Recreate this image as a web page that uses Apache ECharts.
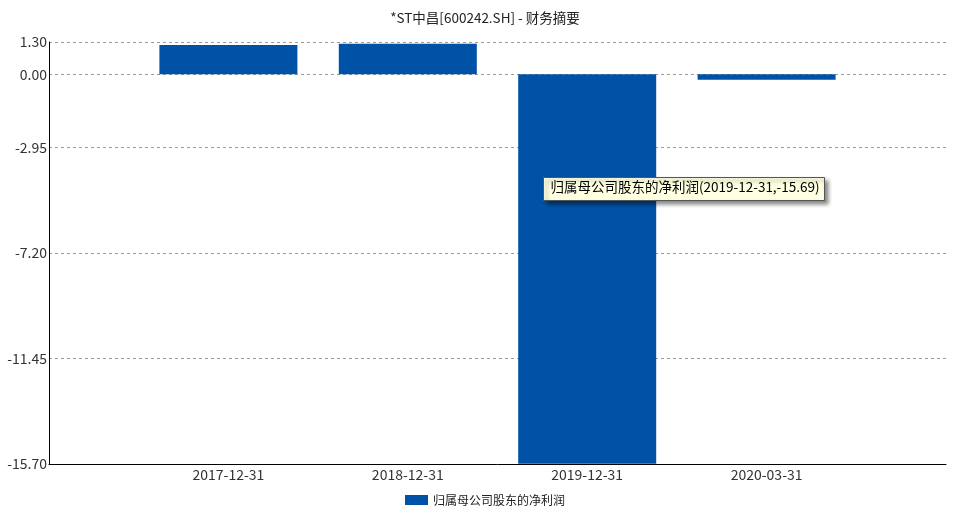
<!DOCTYPE html>
<html>
<head>
<meta charset="utf-8">
<script src="https://cdn.jsdelivr.net/npm/echarts@6/dist/echarts.min.js"></script>
<style>html,body{margin:0;padding:0;background:#fff;}#c{width:970px;height:516px;}</style>
</head>
<body>
<div id="c"></div>
<script>
const titleText = '*ST中昌[600242.SH] - 财务摘要';
const seriesName = '归属母公司股东的净利润';
const categories = ['2017-12-31', '2018-12-31', '2019-12-31', '2020-03-31'];
const values = [1.18, 1.23, -15.69, -0.22];
const yTicks = [-15.70, -11.45, -7.20, -2.95, 0.00, 1.30];
const tipIndex = 2;

const FONT = '"Noto Sans CJK SC", "Noto Sans", sans-serif';
const chart = echarts.init(document.getElementById('c'), null, {renderer: 'canvas'});
const barData = values.map((v, i) => [i, v]);
const tipText = seriesName + '(' + categories[tipIndex] + ',' + values[tipIndex].toFixed(2) + ')';

chart.setOption({
  animation: false,
  backgroundColor: '#fff',
  title: {
    text: titleText, left: 'center', top: 6,
    textStyle: {fontFamily: FONT, fontSize: 13.5, fontWeight: 'normal', color: '#222'}
  },
  legend: {
    bottom: 5, left: 'center', itemWidth: 23, itemHeight: 10, itemGap: 6,
    textStyle: {fontFamily: FONT, fontSize: 12, color: '#222'},
    data: [{name: seriesName, icon: 'rect'}]
  },
  grid: {left: 49, right: 24, top: 42, bottom: 52, containLabel: false},
  xAxis: {
    type: 'value', min: -1, max: 4, interval: 1,
    axisLine: {show: true, onZero: false, lineStyle: {color: '#000', width: 1}},
    axisTick: {show: false},
    splitLine: {show: false},
    axisLabel: {
      fontFamily: FONT, fontSize: 14, color: '#333', margin: 4,
      customValues: [0, 1, 2, 3],
      formatter: v => categories[Math.round(v)] || ''
    }
  },
  yAxis: {
    type: 'value', min: -15.70, max: 1.30,
    axisLine: {show: true, onZero: false, lineStyle: {color: '#000', width: 1}},
    axisTick: {show: false, customValues: yTicks},
    splitLine: {show: true, lineStyle: {color: '#999', type: [3, 3], width: 1}},
    axisLabel: {
      fontFamily: FONT, fontSize: 14, color: '#333', margin: 2,
      customValues: yTicks,
      formatter: v => v.toFixed(2)
    }
  },
  series: [{
    name: seriesName, type: 'bar', barWidth: 138,
    itemStyle: {color: '#0052A6'},
    data: barData
  }],
  graphic: [{
    type: 'group', left: 543, top: 177, z: 100,
    children: [
      {type: 'rect', z: 100, shape: {x: 0, y: 0, width: 281, height: 23},
       style: {fill: '#FFFFE1', stroke: '#555', lineWidth: 1,
               shadowBlur: 4, shadowOffsetX: 3, shadowOffsetY: 3, shadowColor: 'rgba(0,0,0,0.45)'}},
      {type: 'text', z: 101, x: 7, y: 3,
       style: {text: tipText, fontFamily: FONT, fontSize: 13.5, fill: '#000'}}
    ]
  }]
});
</script>
</body>
</html>
